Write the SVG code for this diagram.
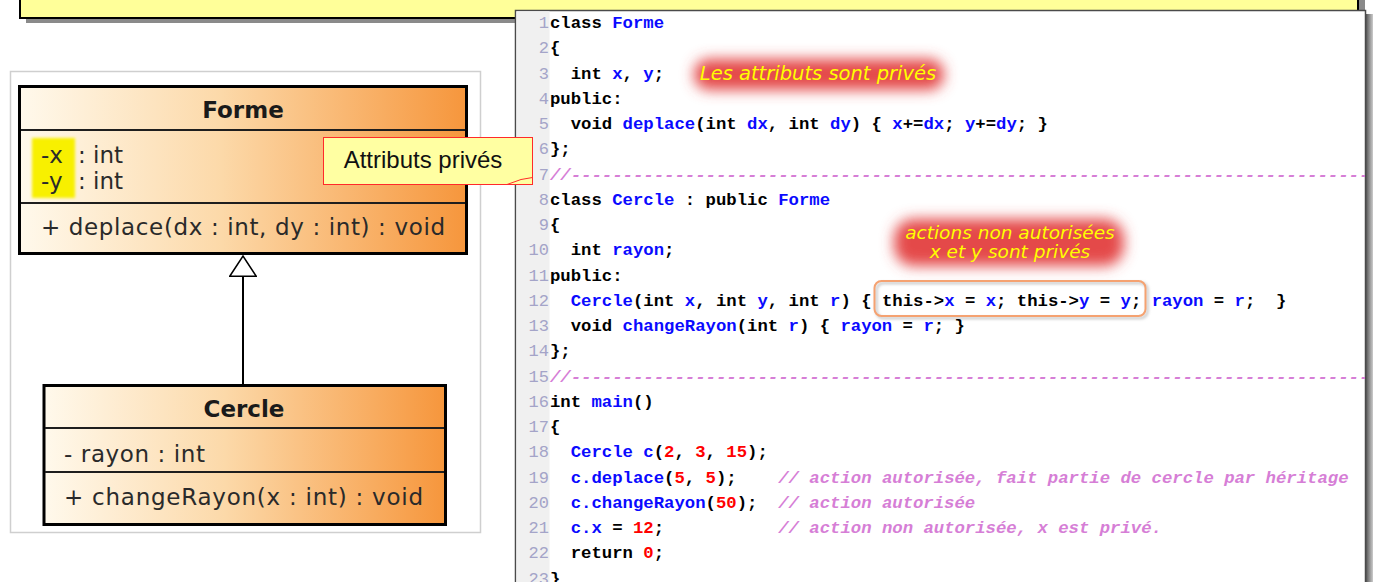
<svg xmlns="http://www.w3.org/2000/svg" width="1373" height="582" viewBox="0 0 1373 582">
  <defs>
    <linearGradient id="umlFill" x1="0" y1="0" x2="1" y2="0">
      <stop offset="0" stop-color="#fff9ec"/>
      <stop offset="0.45" stop-color="#fcd9a9"/>
      <stop offset="1" stop-color="#f6963c"/>
    </linearGradient>
    <linearGradient id="panelShadow" x1="0" y1="0" x2="1" y2="0">
      <stop offset="0" stop-color="#555"/>
      <stop offset="1" stop-color="#ccc"/>
    </linearGradient>
    <filter id="glow" x="-30%" y="-60%" width="160%" height="220%">
      <feGaussianBlur stdDeviation="7"/>
    </filter>
    <filter id="soft" x="-20%" y="-40%" width="140%" height="180%">
      <feGaussianBlur stdDeviation="1.5"/>
    </filter>
    <clipPath id="codeClip">
      <rect x="516" y="11" width="849" height="571"/>
    </clipPath>
    <marker id="inherit" viewBox="0 0 22 28" refX="21" refY="14" markerWidth="22" markerHeight="28" markerUnits="userSpaceOnUse" orient="auto">
      <path d="M0.75,0.75 L21,14 L0.75,27.25 Z" fill="#fff" stroke="#000" stroke-width="1.5"/>
    </marker>
    <style>
      .uml { font-family: "DejaVu Sans", Verdana, sans-serif; font-size: 23px; fill: #2a2a2a; }
      .umlTitle { font-family: "DejaVu Sans", Verdana, sans-serif; font-size: 23px; font-weight: bold; fill: #1a1a1a; }
      .box { fill: url(#umlFill); stroke: #000; stroke-width: 3; }
      .div { stroke: #1e1e1e; stroke-width: 2; }
      .code { font-family: "Liberation Mono", "Courier New", monospace; font-size: 17.3px; font-weight: bold; fill: #000; white-space: pre; }
      .ln { font-family: "Liberation Mono", "Courier New", monospace; font-size: 17px; fill: #a4a4c8; text-anchor: end; }
      .b { fill: #0a0aff; }
      .n { fill: #ff0000; }
      .c { fill: #d67ed6; font-style: italic; }
      .note { font-family: "DejaVu Sans", sans-serif; font-style: italic; fill: #ffff00; text-anchor: middle; }
      .glowShape { fill: #e44a4a; filter: url(#glow); }
    </style>
  </defs>

  <rect width="1373" height="582" fill="#fff"/>

  <!-- title banner, mostly cut off at the top -->
  <g id="banner">
    <rect x="26" y="-20" width="1339" height="43" fill="#8a8a8a"/>
    <rect x="20" y="-20" width="1338" height="38" fill="#ffff99" stroke="#000" stroke-width="2"/>
  </g>

  <!-- UML class diagram frame -->
  <g id="uml-frame">
    <rect x="10.5" y="71.5" width="470" height="461" fill="#fff" stroke="#cfcfcf" stroke-width="1.5"/>
  </g>

  <g id="connectors">
    <path d="M243,385 L243,256" stroke="#000" stroke-width="2" fill="none" marker-end="url(#inherit)"/>
  </g>

  <g id="class-forme">
    <rect class="box" x="19.5" y="86.5" width="447" height="167"/>
    <line class="div" x1="21" y1="130" x2="465" y2="130"/>
    <line class="div" x1="21" y1="203" x2="465" y2="203"/>
    <text class="umlTitle" x="243" y="118" text-anchor="middle">Forme</text>
    <rect x="32" y="138" width="43" height="60" fill="#f8f000" filter="url(#soft)"/>
    <text class="uml" y="163"><tspan x="41">-x</tspan><tspan x="78">: int</tspan></text>
    <text class="uml" y="189"><tspan x="41">-y</tspan><tspan x="78">: int</tspan></text>
    <text class="uml" x="41" y="235" textLength="404" lengthAdjust="spacing">+ deplace(dx : int, dy : int) : void</text>
  </g>

  <g id="class-cercle">
    <rect class="box" x="44" y="385.5" width="401.5" height="139"/>
    <line class="div" x1="45" y1="428" x2="444" y2="428"/>
    <line class="div" x1="45" y1="472" x2="444" y2="472"/>
    <text class="umlTitle" x="244" y="417" text-anchor="middle">Cercle</text>
    <text class="uml" x="64" y="462" textLength="141" lengthAdjust="spacing">- rayon : int</text>
    <text class="uml" x="64" y="505" textLength="359" lengthAdjust="spacing">+ changeRayon(x : int) : void</text>
  </g>

  <!-- source code listing -->
  <g id="code-panel">
    <rect x="1366" y="14" width="7" height="580" fill="url(#panelShadow)"/>
    <rect x="515.5" y="10.5" width="850" height="600" fill="#fff" stroke="#4a4a4a" stroke-width="1.5"/>
    <rect x="516.5" y="11.25" width="33" height="580" fill="#f0f0f0"/>

    <g id="line-numbers">
      <text class="ln" x="549" y="28">1</text>
      <text class="ln" x="549" y="53.25">2</text>
      <text class="ln" x="549" y="78.5">3</text>
      <text class="ln" x="549" y="103.75">4</text>
      <text class="ln" x="549" y="129">5</text>
      <text class="ln" x="549" y="154.25">6</text>
      <text class="ln" x="549" y="179.5">7</text>
      <text class="ln" x="549" y="204.75">8</text>
      <text class="ln" x="549" y="230">9</text>
      <text class="ln" x="549" y="255.25">10</text>
      <text class="ln" x="549" y="280.5">11</text>
      <text class="ln" x="549" y="305.75">12</text>
      <text class="ln" x="549" y="331">13</text>
      <text class="ln" x="549" y="356.25">14</text>
      <text class="ln" x="549" y="381.5">15</text>
      <text class="ln" x="549" y="406.75">16</text>
      <text class="ln" x="549" y="432">17</text>
      <text class="ln" x="549" y="457.25">18</text>
      <text class="ln" x="549" y="482.5">19</text>
      <text class="ln" x="549" y="507.75">20</text>
      <text class="ln" x="549" y="533">21</text>
      <text class="ln" x="549" y="558.25">22</text>
      <text class="ln" x="549" y="583.5">23</text>
    </g>

    <!-- red glows behind the notes -->
    <rect class="glowShape" x="694" y="59" width="250" height="31" rx="15"/>
    <rect class="glowShape" x="894" y="219" width="230" height="47" rx="20"/>

    <!-- framed statement on line 12 -->
    <rect x="876.5" y="283" width="271" height="35" rx="7" fill="none" stroke="#bbb" stroke-width="2" filter="url(#soft)"/>
    <rect x="874.5" y="281" width="271" height="35" rx="7" fill="none" stroke="#f5a271" stroke-width="2"/>

    <g clip-path="url(#codeClip)">
      <text class="code" x="550" y="28">class <tspan class="b">Forme</tspan></text>
      <text class="code" x="550" y="53.25">{</text>
      <text class="code" x="550" y="78.5">  int <tspan class="b">x</tspan>, <tspan class="b">y</tspan>;</text>
      <text class="code" x="550" y="103.75">public:</text>
      <text class="code" x="550" y="129">  void <tspan class="b">deplace</tspan>(int <tspan class="b">dx</tspan>, int <tspan class="b">dy</tspan>) { <tspan class="b">x</tspan>+=<tspan class="b">dx</tspan>; <tspan class="b">y</tspan>+=<tspan class="b">dy</tspan>; }</text>
      <text class="code" x="550" y="154.25">};</text>
      <text class="code c" x="550" y="179.5">//-----------------------------------------------------------------------------</text>
      <text class="code" x="550" y="204.75">class <tspan class="b">Cercle</tspan> : public <tspan class="b">Forme</tspan></text>
      <text class="code" x="550" y="230">{</text>
      <text class="code" x="550" y="255.25">  int <tspan class="b">rayon</tspan>;</text>
      <text class="code" x="550" y="280.5">public:</text>
      <text class="code" x="550" y="305.75">  <tspan class="b">Cercle</tspan>(int <tspan class="b">x</tspan>, int <tspan class="b">y</tspan>, int <tspan class="b">r</tspan>) { this-&gt;<tspan class="b">x</tspan> = <tspan class="b">x</tspan>; this-&gt;<tspan class="b">y</tspan> = <tspan class="b">y</tspan>; <tspan class="b">rayon</tspan> = <tspan class="b">r</tspan>;  }</text>
      <text class="code" x="550" y="331">  void <tspan class="b">changeRayon</tspan>(int <tspan class="b">r</tspan>) { <tspan class="b">rayon</tspan> = <tspan class="b">r</tspan>; }</text>
      <text class="code" x="550" y="356.25">};</text>
      <text class="code c" x="550" y="381.5">//-----------------------------------------------------------------------------</text>
      <text class="code" x="550" y="406.75">int <tspan class="b">main</tspan>()</text>
      <text class="code" x="550" y="432">{</text>
      <text class="code" x="550" y="457.25">  <tspan class="b">Cercle c</tspan>(<tspan class="n">2</tspan>, <tspan class="n">3</tspan>, <tspan class="n">15</tspan>);</text>
      <text class="code" x="550" y="482.5">  <tspan class="b">c.deplace</tspan>(<tspan class="n">5</tspan>, <tspan class="n">5</tspan>);    <tspan class="c">// action autorisée, fait partie de cercle par héritage</tspan></text>
      <text class="code" x="550" y="507.75">  <tspan class="b">c.changeRayon</tspan>(<tspan class="n">50</tspan>);  <tspan class="c">// action autorisée</tspan></text>
      <text class="code" x="550" y="533">  <tspan class="b">c.x</tspan> = <tspan class="n">12</tspan>;           <tspan class="c">// action non autorisée, x est privé.</tspan></text>
      <text class="code" x="550" y="558.25">  return <tspan class="n">0</tspan>;</text>
      <text class="code" x="550" y="583.5">}</text>
    </g>

    <text class="note" x="818" y="80" font-size="19.5">Les attributs sont privés</text>
    <text class="note" x="1010" y="239" font-size="18.5">actions non autorisées</text>
    <text class="note" x="1010" y="258" font-size="18.5">x et y sont privés</text>
  </g>

  <!-- yellow callout pointing at the private attributes -->
  <g id="callout">
    <rect x="323.5" y="137.5" width="209" height="47" fill="#ffffa2" stroke="#ff2a2a" stroke-width="1"/>
    <path d="M507,184.5 L521,179.5 L532.5,177.5" fill="none" stroke="#ff2a2a" stroke-width="1"/>
    <text x="423" y="168" text-anchor="middle" font-family="Liberation Sans, Arial, sans-serif" font-size="24" fill="#111">Attributs privés</text>
  </g>
</svg>
